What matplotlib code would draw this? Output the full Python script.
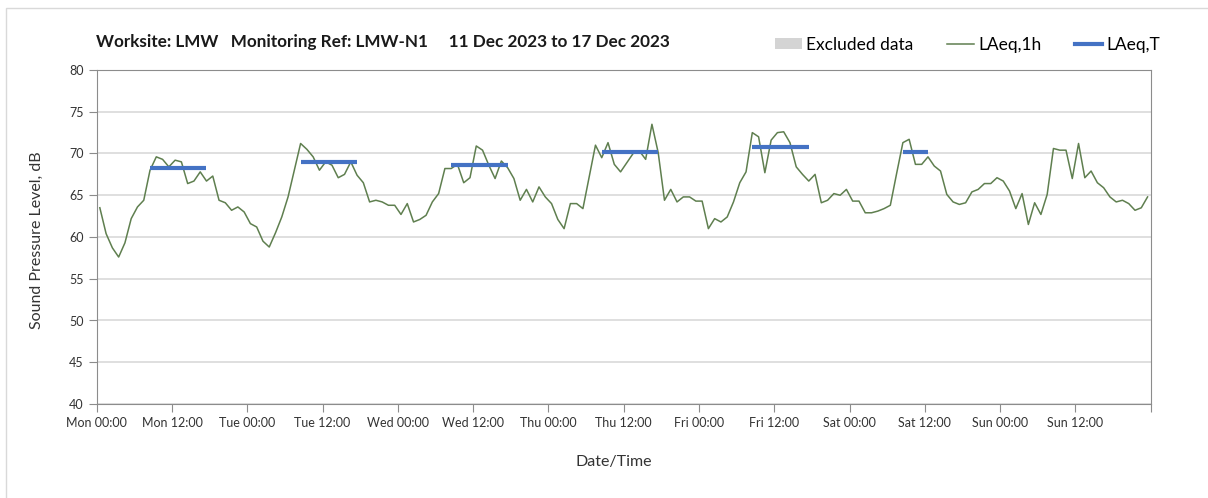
import matplotlib
matplotlib.use("Agg")
import matplotlib.pyplot as plt
import matplotlib.dates as mdates
from matplotlib.patches import Patch, Rectangle
from matplotlib.lines import Line2D
import numpy as np
import pandas as pd

plt.rcParams['font.family'] = ['Lato', 'DejaVu Sans']

# hourly LAeq,1h, Mon 11 Dec 2023 00:00 .. Sun 17 Dec 2023 23:00
laeq_1h = [
    63.5, 60.4, 58.7, 57.6, 59.3, 62.2, 63.6, 64.4, 68.0, 69.6, 69.3, 68.4,
    69.2, 69.0, 66.4, 66.7, 67.8, 66.7, 67.3, 64.4, 64.1, 63.2, 63.6, 63.0,
    61.6, 61.2, 59.5, 58.8, 60.5, 62.4, 64.8, 68.0, 71.2, 70.5, 69.6, 68.0,
    69.0, 68.6, 67.1, 67.5, 69.0, 67.4, 66.5, 64.2, 64.4, 64.2, 63.8, 63.8,
    62.7, 64.0, 61.8, 62.1, 62.6, 64.2, 65.2, 68.2, 68.2, 68.7, 66.5, 67.1,
    70.9, 70.4, 68.6, 67.0, 69.1, 68.3, 67.0, 64.4, 65.7, 64.2, 66.0, 64.8,
    64.0, 62.1, 61.0, 64.0, 64.0, 63.4, 67.2, 71.0, 69.5, 71.3, 68.7, 67.8,
    68.9, 70.0, 70.3, 69.3, 73.5, 70.1, 64.4, 65.7, 64.2, 64.8, 64.8, 64.3,
    64.3, 61.0, 62.2, 61.8, 62.4, 64.2, 66.5, 67.8, 72.5, 72.0, 67.7, 71.6,
    72.5, 72.6, 71.3, 68.4, 67.5, 66.7, 67.5, 64.1, 64.4, 65.2, 65.0, 65.7,
    64.3, 64.3, 62.9, 62.9, 63.1, 63.4, 63.8, 67.6, 71.3, 71.7, 68.7, 68.7,
    69.6, 68.5, 67.9, 65.1, 64.2, 63.9, 64.1, 65.4, 65.7, 66.4, 66.4, 67.1,
    66.7, 65.5, 63.4, 65.2, 61.5, 64.1, 62.7, 65.1, 70.6, 70.4, 70.4, 67.0,
    71.2, 67.1, 67.9, 66.5, 65.9, 64.8, 64.2, 64.4, 64.0, 63.2, 63.5, 64.8,
]
times = pd.date_range("2023-12-11 00:30", periods=len(laeq_1h), freq="h")

# LAeq,T for daytime periods
period_start = ["2023-12-11 08:30", "2023-12-12 08:30", "2023-12-13 08:30",
                "2023-12-14 08:30", "2023-12-15 08:30", "2023-12-16 08:30"]
period_end = ["2023-12-11 17:30", "2023-12-12 17:30", "2023-12-13 17:30",
              "2023-12-14 17:30", "2023-12-15 17:30", "2023-12-16 12:30"]
laeq_T = [68.3, 69.0, 68.6, 70.2, 70.8, 70.2]

tick_times = pd.date_range("2023-12-11 00:00", "2023-12-18 00:00", freq="12h")
tick_labels = ["Mon 00:00", "Mon 12:00", "Tue 00:00", "Tue 12:00", "Wed 00:00",
               "Wed 12:00", "Thu 00:00", "Thu 12:00", "Fri 00:00", "Fri 12:00",
               "Sat 00:00", "Sat 12:00", "Sun 00:00", "Sun 12:00", ""]

green = "#5f7f4f"
blue = "#4472c4"
spine_c = "#8c8c8c"
grid_c = "#d9d9d9"

fig = plt.figure(figsize=(12.08, 4.98), dpi=100)
ax = fig.add_axes([96.7/1208, 1-404/498, (1150.7-96.7)/1208, (404-70)/498])

# light frame around the chart area
fig.patches.append(Rectangle((6/1208, -0.1), 1.2, 1-8/498+0.1, transform=fig.transFigure,
                             fill=False, edgecolor="#d9d9d9", lw=1))

ax.plot(times, laeq_1h, color=green, lw=1.1, zorder=3)
for s, e, v in zip(period_start, period_end, laeq_T):
    ax.plot([pd.Timestamp(s), pd.Timestamp(e)], [v, v], color=blue, lw=3,
            solid_capstyle="butt", zorder=4)

ax.set_ylim(40, 80)
ax.set_yticks(np.arange(40, 81, 5))
ax.set_xlim(tick_times[0], tick_times[-1])
ax.set_xticks(tick_times)
ax.set_xticklabels(tick_labels)
ax.xaxis.set_minor_locator(mdates.DayLocator())

ax.grid(axis="y", color=grid_c, lw=1.2)
ax.grid(axis="x", which="minor", color=grid_c, lw=1.2)
ax.set_axisbelow(True)
for sp in ax.spines.values():
    sp.set_color(spine_c)
ax.tick_params(axis="both", which="major", direction="out", color=spine_c,
               length=6, labelsize=9, labelcolor="#333333")
ax.tick_params(axis="x", which="minor", length=0)
ax.tick_params(axis="x", pad=3)

fig.text(37/1208, 1-240/498, "Sound Pressure Level, dB", rotation=90,
         ha="center", va="center", fontsize=11.5, color="#333333")
fig.text(614/1208, 1-462/498, "Date/Time", ha="center", va="center",
         fontsize=11.5, color="#333333")
fig.text(96/1208, 1-42/498,
         "Worksite: LMW   Monitoring Ref: LMW-N1     11 Dec 2023 to 17 Dec 2023",
         ha="left", va="center", fontsize=12.3, fontweight="bold", color="#1a1a1a")

handles = [Patch(facecolor="#d4d4d4", edgecolor="none", label="Excluded data"),
           Line2D([], [], color=green, lw=1.1, label="LAeq,1h"),
           Line2D([], [], color=blue, lw=3, label="LAeq,T")]
fig.legend(handles=handles, loc="center left", bbox_to_anchor=(775/1208, 1-45/498),
           ncol=3, frameon=False, fontsize=12.5, handlelength=1.55, handleheight=0.6,
           handletextpad=0.23, columnspacing=1.95, borderpad=0, borderaxespad=0)

fig.savefig("out.png", dpi=100)
